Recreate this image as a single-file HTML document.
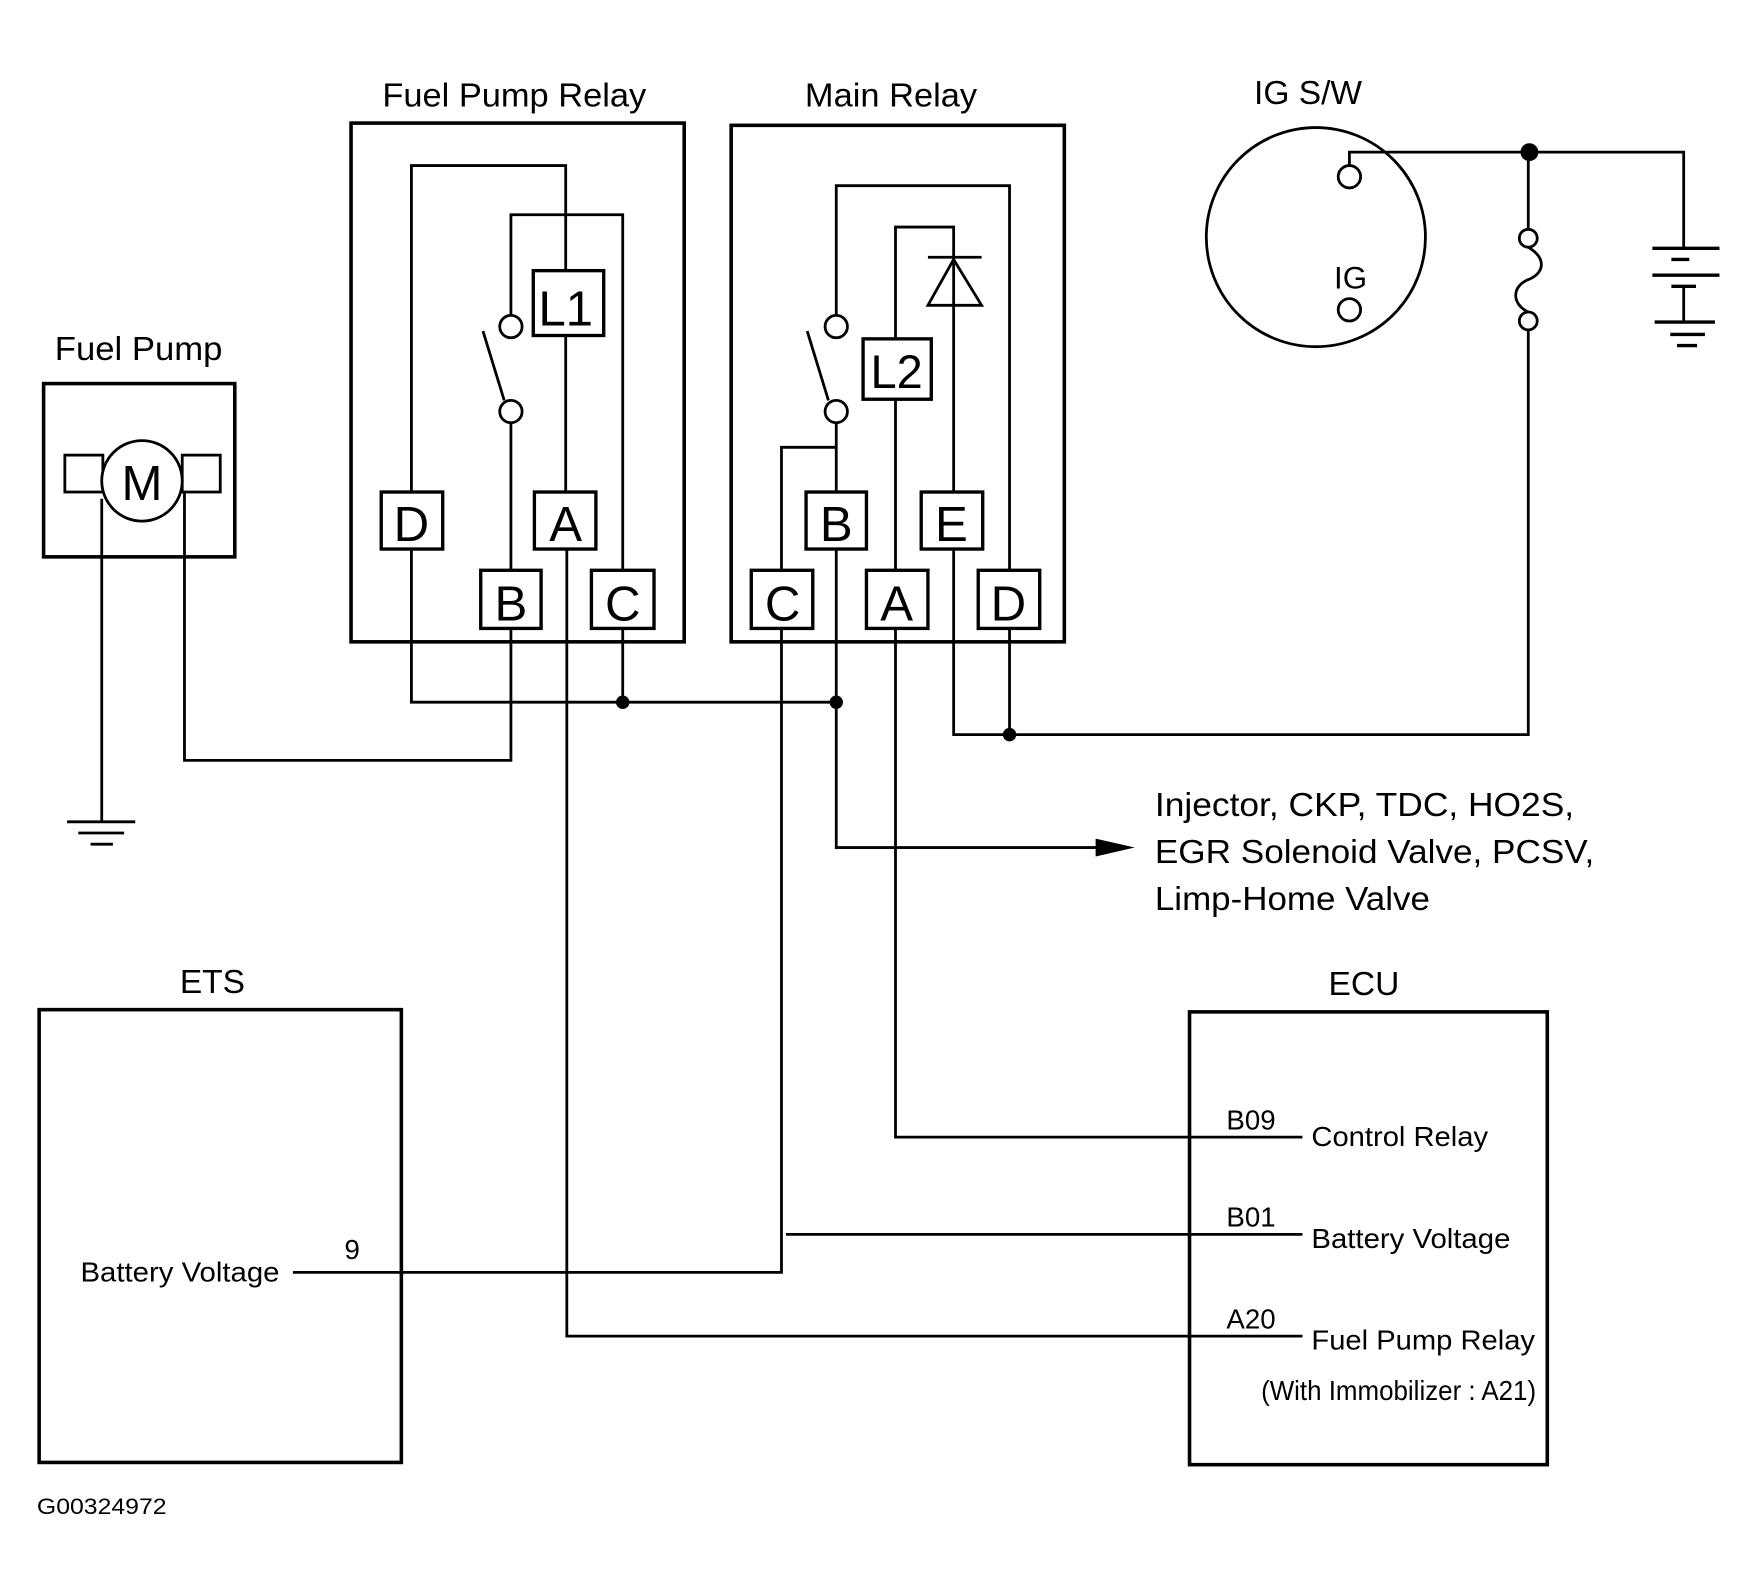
<!DOCTYPE html>
<html><head><meta charset="utf-8"><style>
html,body{margin:0;padding:0;background:#fff;}
svg{display:block;}
text{font-family:"Liberation Sans",Arial,sans-serif;fill:#000;}
</style></head><body>
<svg width="1753" height="1590" viewBox="0 0 1568 1422" xmlns="http://www.w3.org/2000/svg">
<g fill="none" stroke="#000" stroke-width="2.5">
<rect x="314" y="110" width="298" height="464" stroke-width="3.2"/>
<polyline points="368,440 368,148 506,148 506,242"/>
<rect x="477" y="242" width="63" height="58" stroke-width="3"/>
<line x1="506" y1="300" x2="506" y2="440"/>
<polyline points="457,282 457,192 557,192 557,510"/>
<circle cx="457" cy="292" r="10"/>
<circle cx="457" cy="368" r="10"/>
<line x1="432" y1="296" x2="451" y2="358"/>
<line x1="457" y1="378" x2="457" y2="510"/>
<rect x="341" y="440" width="55" height="51" stroke-width="3"/>
<rect x="478" y="440" width="55" height="51" stroke-width="3"/>
<rect x="430" y="510" width="54" height="52" stroke-width="3"/>
<rect x="529" y="510" width="56" height="52" stroke-width="3"/>
<polyline points="368,491 368,628 748,628"/>
<line x1="557" y1="562" x2="557" y2="628"/>
<polyline points="457,562 457,680 165,680 165,440"/>
<polyline points="507,491 507,1195 1165,1195"/>
<rect x="39" y="343" width="171" height="155" stroke-width="3.2"/>
<rect x="58" y="407" width="34" height="33"/>
<rect x="163" y="407" width="34" height="33"/>
<circle cx="127" cy="430" r="36" fill="#fff"/>
<line x1="91" y1="446" x2="91" y2="735"/>
<line x1="60" y1="735" x2="121" y2="735"/>
<line x1="70" y1="745" x2="111" y2="745"/>
<line x1="81" y1="755" x2="101" y2="755"/>
<rect x="654" y="112" width="298" height="462" stroke-width="3.2"/>
<polyline points="748,282 748,166 903,166 903,510"/>
<circle cx="748" cy="292" r="10"/>
<circle cx="748" cy="368" r="10"/>
<line x1="722" y1="296" x2="741" y2="358"/>
<line x1="748" y1="378" x2="748" y2="440"/>
<polyline points="748,400 699,400 699,510"/>
<rect x="772" y="303" width="61" height="54" stroke-width="3"/>
<polyline points="801,303 801,203 853,203 853,440"/>
<line x1="830" y1="230" x2="878" y2="230"/>
<polygon points="853,232 830,273 878,273"/>
<line x1="801" y1="357" x2="801" y2="510"/>
<rect x="721" y="440" width="54" height="51" stroke-width="3"/>
<rect x="824" y="440" width="55" height="51" stroke-width="3"/>
<rect x="672" y="510" width="55" height="52" stroke-width="3"/>
<rect x="775" y="510" width="55" height="52" stroke-width="3"/>
<rect x="875" y="510" width="55" height="52" stroke-width="3"/>
<polyline points="748,491 748,758 985,758"/>
<polyline points="699,562 699,1138 262,1138"/>
<line x1="703" y1="1104" x2="1165" y2="1104"/>
<polyline points="801,562 801,1017 1165,1017"/>
<polyline points="853,491 853,657 1367,657 1367,295"/>
<line x1="903" y1="562" x2="903" y2="657"/>
<circle cx="1177" cy="212" r="98"/>
<circle cx="1207" cy="158" r="10"/>
<circle cx="1207" cy="277" r="10"/>
<polyline points="1207,148 1207,136 1506,136 1506,222"/>
<line x1="1367" y1="136" x2="1367" y2="205"/>
<circle cx="1367" cy="213" r="8"/>
<circle cx="1367" cy="287" r="8"/>
<path d="M1367,221 C1385,232 1380,245 1367,250 C1352,256 1352,272 1367,279"/>
<line x1="1478" y1="222" x2="1538" y2="222" stroke-width="3"/>
<line x1="1495" y1="232" x2="1511" y2="232" stroke-width="3"/>
<line x1="1478" y1="246" x2="1538" y2="246" stroke-width="3"/>
<line x1="1495" y1="256" x2="1517" y2="256" stroke-width="3"/>
<line x1="1506" y1="256" x2="1506" y2="288"/>
<line x1="1480" y1="288" x2="1534" y2="288" stroke-width="3"/>
<line x1="1494" y1="299" x2="1525" y2="299" stroke-width="3"/>
<line x1="1500" y1="309" x2="1518" y2="309" stroke-width="3"/>
<rect x="35" y="903" width="324" height="405" stroke-width="3.2"/>
<rect x="1064" y="905" width="320" height="405" stroke-width="3.2"/>
</g>
<g fill="#000">
<circle cx="557" cy="628" r="6"/>
<circle cx="748" cy="628" r="6"/>
<circle cx="903" cy="657" r="6"/>
<circle cx="1368" cy="136" r="8"/>
<polygon points="980,750 1015,758 980,766"/>
</g>
<g font-size="30" text-anchor="middle">
<text x="460" y="95" textLength="236" lengthAdjust="spacingAndGlyphs">Fuel Pump Relay</text>
<text x="797" y="95" textLength="154" lengthAdjust="spacingAndGlyphs">Main Relay</text>
<text x="1170" y="93">IG S/W</text>
<text x="124" y="322" textLength="150" lengthAdjust="spacingAndGlyphs">Fuel Pump</text>
<text x="190" y="888">ETS</text>
<text x="1220" y="890">ECU</text>
<text x="1208" y="258" font-size="28">IG</text>
<text x="127" y="447" font-size="44">M</text>
<text x="506" y="291" font-size="44">L1</text>
<text x="802" y="347" font-size="42">L2</text>
<g font-size="44">
<text x="368" y="484">D</text><text x="506" y="484">A</text>
<text x="457" y="555">B</text><text x="557" y="555">C</text>
<text x="748" y="484">B</text><text x="851" y="484">E</text>
<text x="700" y="555">C</text><text x="802" y="555">A</text><text x="902" y="555">D</text>
</g>
</g>
<g font-size="30">
<text x="1033" y="730" textLength="375" lengthAdjust="spacingAndGlyphs">Injector, CKP, TDC, HO2S,</text>
<text x="1033" y="772" textLength="393" lengthAdjust="spacingAndGlyphs">EGR Solenoid Valve, PCSV,</text>
<text x="1033" y="814" textLength="246" lengthAdjust="spacingAndGlyphs">Limp-Home Valve</text>
</g>
<g font-size="25">
<text x="72" y="1146" textLength="178" lengthAdjust="spacingAndGlyphs">Battery Voltage</text>
<text x="308" y="1126">9</text>
<text x="1097" y="1010" textLength="44" lengthAdjust="spacingAndGlyphs">B09</text>
<text x="1173" y="1025" textLength="158" lengthAdjust="spacingAndGlyphs">Control Relay</text>
<text x="1097" y="1097" textLength="44" lengthAdjust="spacingAndGlyphs">B01</text>
<text x="1173" y="1116" textLength="178" lengthAdjust="spacingAndGlyphs">Battery Voltage</text>
<text x="1097" y="1188" textLength="44" lengthAdjust="spacingAndGlyphs">A20</text>
<text x="1173" y="1207" textLength="200" lengthAdjust="spacingAndGlyphs">Fuel Pump Relay</text>
<text x="1128" y="1252" textLength="246" lengthAdjust="spacingAndGlyphs">(With Immobilizer : A21)</text>
<text x="33" y="1354" font-size="20" textLength="116" lengthAdjust="spacingAndGlyphs">G00324972</text>
</g>
</svg>
</body></html>
